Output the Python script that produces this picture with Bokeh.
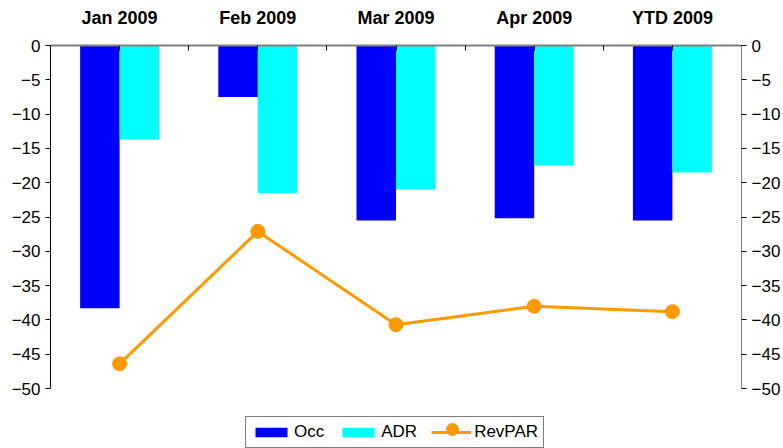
from bokeh.plotting import figure
from bokeh.models import (ColumnDataSource, Range1d, LinearAxis, FixedTicker,
                          Legend, LegendItem)
from bokeh.transform import dodge
from bokeh.embed import file_html
from bokeh.resources import INLINE

# ---- data ----
categories = ["Jan 2009", "Feb 2009", "Mar 2009", "Apr 2009", "YTD 2009"]
occ = [-38.3, -7.5, -25.5, -25.2, -25.5]
adr = [-13.7, -21.5, -21.0, -17.5, -18.5]
revpar = [-46.4, -27.1, -40.7, -38.0, -38.8]
y_ticks = [0, -5, -10, -15, -20, -25, -30, -35, -40, -45, -50]
y_min, y_max = -50, 0

FONT = "Liberation Sans"
n = len(categories)
src = ColumnDataSource(dict(
    pos=[i + 0.5 for i in range(n)],
    occ=occ, adr=adr, revpar=revpar,
))

# frame extends below the -50 line to leave room for the legend box
axis_px = 343          # pixel height of the 0..-50 span
frame_h = 403
ext = (y_max - y_min) * frame_h / axis_px

p = figure(width=783, height=448, output_backend="svg", toolbar_location=None,
           x_range=Range1d(0, n), y_range=Range1d(y_max - ext, y_max),
           x_axis_location=None, y_axis_location=None,
           frame_width=691, frame_height=frame_h,
           min_border_left=50, min_border_right=42, min_border_top=45,
           min_border_bottom=0)
p.outline_line_color = None
p.xgrid.visible = False
p.ygrid.visible = False
p.background_fill_color = "white"
p.border_fill_color = "white"

bw = 1 / 3.5  # bar width in category units (gap 150%)
r_occ = p.vbar(x=dodge("pos", -bw / 2, range=p.x_range), top=0, bottom="occ",
               width=bw, source=src, fill_color="#0000FF", line_color=None)
r_adr = p.vbar(x=dodge("pos", bw / 2, range=p.x_range), top=0, bottom="adr",
               width=bw, source=src, fill_color="#00FFFF", line_color=None)
r_line = p.line(x="pos", y="revpar", source=src, line_color="#FF9900", line_width=3)
r_pts = p.scatter(x="pos", y="revpar", source=src, size=14, marker="circle",
                  fill_color="#FF9900", line_color="#FF9900")

# top category axis
top_ticks = [i * 0.5 for i in range(2 * n + 1)]
overrides = {}
for t in top_ticks:
    overrides[t] = ""
for i, c in enumerate(categories):
    overrides[i + 0.5] = c
top = LinearAxis(ticker=FixedTicker(ticks=top_ticks), major_label_overrides=overrides)
top.axis_line_color = "#808080"
top.axis_line_width = 2
top.major_tick_in = 5
top.major_tick_out = 0
top.minor_tick_line_color = None
top.major_tick_line_color = "black"
top.major_label_text_font = FONT
top.major_label_text_font_size = "18px"
top.major_label_text_font_style = "bold"
top.major_label_text_color = "black"
top.major_label_standoff = 18
p.add_layout(top, "above")

for side in ("left", "right"):
    ax = LinearAxis(ticker=FixedTicker(ticks=y_ticks), bounds=(y_min, y_max))
    ax.axis_line_color = "black" if side == "left" else "#808080"
    ax.major_tick_in = 0
    ax.major_tick_out = 5
    ax.minor_tick_line_color = None
    ax.major_tick_line_color = "black"
    ax.major_label_text_font = FONT
    ax.major_label_text_font_size = "17px"
    ax.major_label_text_color = "black"
    ax.major_label_standoff = 5
    p.add_layout(ax, side)

legend = Legend(items=[
    LegendItem(label="Occ", renderers=[r_occ]),
    LegendItem(label="ADR", renderers=[r_adr]),
    LegendItem(label="RevPAR", renderers=[r_line]),
], orientation="horizontal", location=(195, 0))
legend.label_text_font = FONT
legend.label_text_font_size = "17px"
legend.label_text_color = "black"
legend.glyph_width = 40
legend.glyph_height = 12
legend.label_standoff = 3
legend.spacing = 14
legend.padding = 5
legend.margin = 0
legend.border_line_color = "black"
legend.border_line_width = 1
legend.background_fill_alpha = 1
p.add_layout(legend, "center")

# overlay legend carrying the larger RevPAR marker on top of the line swatch
marker_legend = Legend(items=[LegendItem(label=" ", renderers=[r_pts])],
                       location=(382, 4))
marker_legend.glyph_width = 40
marker_legend.glyph_height = 30
marker_legend.padding = 0
marker_legend.margin = 0
marker_legend.label_standoff = 0
marker_legend.label_width = 0
marker_legend.border_line_color = None
marker_legend.background_fill_alpha = 0
p.add_layout(marker_legend, "center")

open("out.html", "w").write(file_html(p, INLINE))
